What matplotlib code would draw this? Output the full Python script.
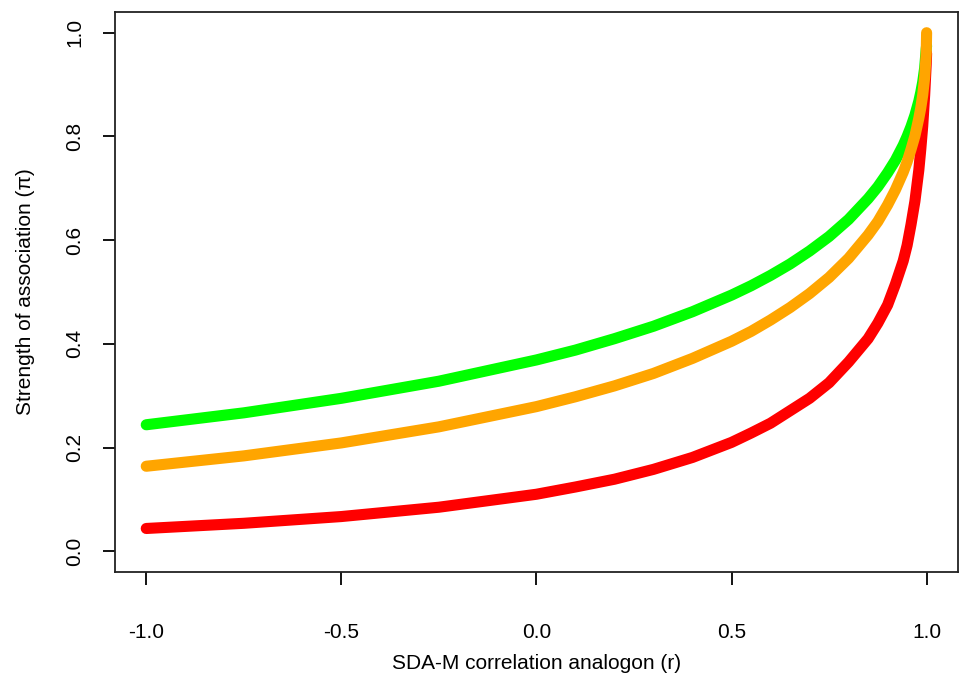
import matplotlib
matplotlib.use("Agg")
import matplotlib.pyplot as plt

#%% Data

r_vals = [-1.0, -0.75, -0.5, -0.25, 0.0, 0.1, 0.2, 0.3, 0.4, 0.5, 0.55,
          0.6, 0.65, 0.7, 0.75, 0.8, 0.85, 0.875, 0.9, 0.92, 0.94, 0.95,
          0.96, 0.97, 0.98, 0.985, 0.99, 0.995, 0.999, 1.0]

# green curve (top)
pi_green = [0.244, 0.267, 0.295, 0.328, 0.369, 0.388, 0.410, 0.434, 0.462,
            0.494, 0.512, 0.532, 0.554, 0.579, 0.607, 0.640, 0.680, 0.703,
            0.730, 0.754, 0.783, 0.800, 0.819, 0.841, 0.868, 0.885, 0.905,
            0.932, 0.969, 0.975]

# orange curve (middle)
pi_orange = [0.164, 0.184, 0.209, 0.240, 0.279, 0.298, 0.319, 0.343, 0.372,
             0.405, 0.424, 0.446, 0.470, 0.497, 0.528, 0.565, 0.610, 0.636,
             0.668, 0.697, 0.731, 0.751, 0.775, 0.801, 0.835, 0.855, 0.880,
             0.914, 0.960, 1.000]

# red curve (bottom)
pi_red = [0.044, 0.054, 0.067, 0.085, 0.110, 0.124, 0.139, 0.158, 0.181,
          0.210, 0.228, 0.247, 0.271, 0.295, 0.325, 0.365, 0.410, 0.440,
          0.475, 0.515, 0.560, 0.590, 0.630, 0.675, 0.735, 0.775, 0.820,
          0.880, 0.940, 0.960]

xticks = [-1.0, -0.5, 0.0, 0.5, 1.0]
yticks = [0.0, 0.2, 0.4, 0.6, 0.8, 1.0]

#%% Plot

plt.rcParams['font.family'] = ['Liberation Sans', 'DejaVu Sans']

fig = plt.figure(figsize=(9.61, 6.81), dpi=100)
ax = fig.add_axes([0.1197, 0.16, 0.877, 0.8224])

lw = 8
ax.plot(r_vals, pi_green, color="#00FF00", lw=lw, solid_capstyle="round")
ax.plot(r_vals, pi_red, color="#FF0000", lw=lw, solid_capstyle="round")
ax.plot(r_vals, pi_orange, color="#FFA500", lw=lw, solid_capstyle="round")

# R style 4% padding
ax.set_xlim(-1.08, 1.08)
ax.set_ylim(-0.04, 1.04)

ax.set_xticks(xticks)
ax.set_xticklabels(["%.1f" % v for v in xticks])
ax.set_yticks(yticks)
ax.set_yticklabels(["%.1f" % v for v in yticks], rotation=90, va="center")

ax.tick_params(axis="x", length=9, width=1.3, labelsize=15, pad=28)
ax.tick_params(axis="y", length=9, width=1.3, labelsize=15, pad=13)

for s in ax.spines.values():
    s.set_linewidth(1.3)
    s.set_color("#222222")

ax.set_xlabel("SDA-M correlation analogon (r)", fontsize=15, labelpad=8)
ax.set_ylabel("Strength of association (\u03c0)", fontsize=15, labelpad=22)

fig.savefig("out.png", dpi=100)
